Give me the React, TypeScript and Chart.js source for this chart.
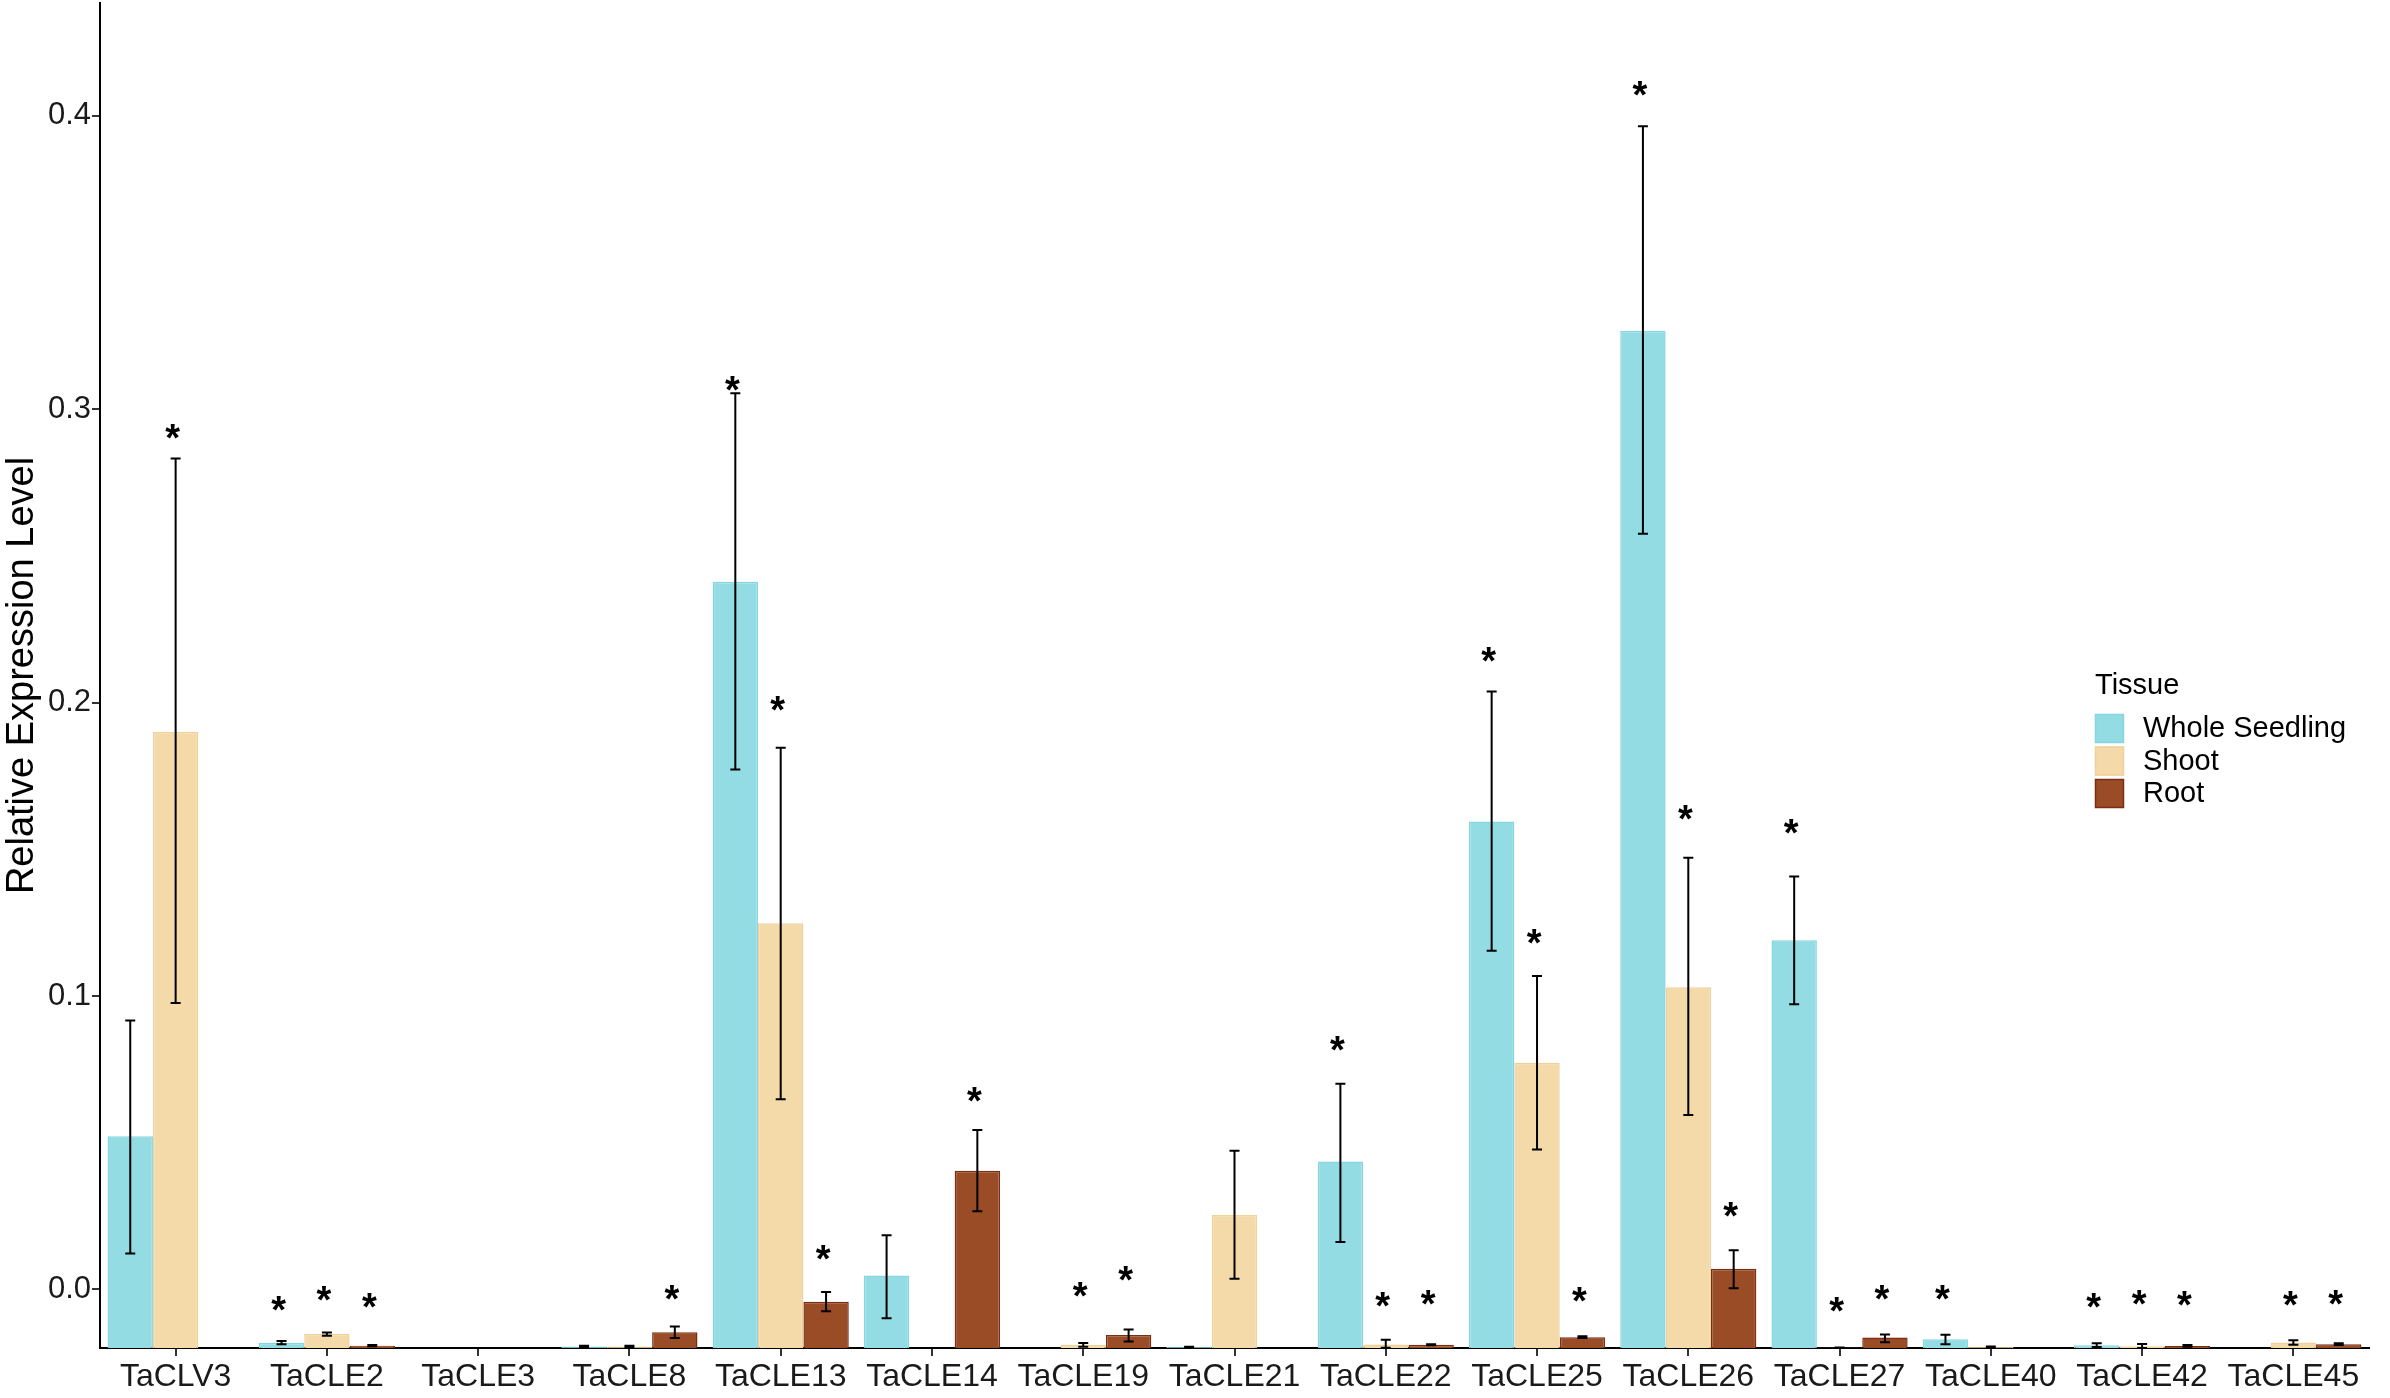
import { useEffect, useRef } from "react";
import { Chart, registerables } from "chart.js";

Chart.register(...registerables);

const genes = [
  "TaCLV3",
  "TaCLE2",
  "TaCLE3",
  "TaCLE8",
  "TaCLE13",
  "TaCLE14",
  "TaCLE19",
  "TaCLE21",
  "TaCLE22",
  "TaCLE25",
  "TaCLE26",
  "TaCLE27",
  "TaCLE40",
  "TaCLE42",
  "TaCLE45",
];

const tissues = ["Whole Seedling", "Shoot", "Root"];

// bar heights (bars start at the bottom of the panel, -0.02)
const wholeSeedling = [0.0522, -0.0182, null, -0.0195, 0.2412, 0.0047, null, -0.0197, 0.0436, 0.1595, 0.3268, 0.119, -0.017, -0.0191, null];
const shoot = [0.19, -0.0152, null, -0.0195, 0.1248, null, -0.0189, 0.0253, -0.0188, 0.0772, 0.103, -0.0199, -0.0197, -0.0194, -0.0181];
const root = [null, -0.0192, null, -0.0146, -0.0042, 0.0404, -0.0156, null, -0.0189, -0.0163, 0.007, -0.0164, null, -0.0193, -0.0187];

// error bar ends
const wholeSeedlingHigh = [0.0916, -0.0176, null, -0.0192, 0.3055, 0.0184, null, -0.0196, 0.0701, 0.2038, 0.3965, 0.1407, -0.0155, -0.0184, null];
const wholeSeedlingLow = [0.0122, -0.0187, null, -0.0198, 0.1772, -0.0099, null, -0.0199, 0.0161, 0.1154, 0.2576, 0.0972, -0.0187, -0.0197, null];
const shootHigh = [0.2832, -0.0147, null, -0.0192, 0.1846, null, -0.0183, 0.0472, -0.0172, 0.1068, 0.1471, -0.0198, -0.0195, -0.0186, -0.0174];
const shootLow = [0.0976, -0.0158, null, -0.0198, 0.0648, null, -0.0196, 0.0036, -0.0199, 0.0477, 0.0594, -0.02, -0.0199, -0.02, -0.0189];
const rootHigh = [null, -0.019, null, -0.0127, -0.0009, 0.0543, -0.0137, null, -0.0187, -0.016, 0.0133, -0.0154, null, -0.019, -0.0184];
const rootLow = [null, -0.0194, null, -0.0166, -0.0075, 0.0266, -0.0178, null, -0.0191, -0.0166, 0.0004, -0.018, null, -0.0196, -0.019];

// significance marks ("*"), value at the centre of the glyph
const wholeSeedlingStar = [null, -0.004, null, null, 0.3095, null, null, null, 0.0845, 0.2173, 0.4102, 0.1586, -0.0002, -0.0032, null];
const shootStar = [0.293, -0.0008, null, null, 0.2006, null, 0.0008, null, -0.0027, 0.121, 0.1632, -0.0046, null, -0.0022, -0.0024];
const rootStar = [null, -0.0032, null, -0.0002, 0.0133, 0.0673, 0.006, null, -0.002, -0.001, 0.0279, -0.0005, null, -0.0025, -0.002];

const yTicks = [0, 0.1, 0.2, 0.3, 0.4];

const fills = ["#93DCE4", "#F4D9A9", "#9A4C26"];
const borders = ["#86D6DF", "#EFD19C", "#7B2F12"];

const FONT = '"Liberation Sans", Arial, Helvetica, sans-serif';

const highs = [wholeSeedlingHigh, shootHigh, rootHigh];
const lows = [wholeSeedlingLow, shootLow, rootLow];
const stars = [wholeSeedlingStar, shootStar, rootStar];

const errorBarsAndStars = {
  id: "errorBarsAndStars",
  afterDatasetsDraw(chart: any) {
    const { ctx } = chart;
    const y = chart.scales.y;
    ctx.save();
    ctx.strokeStyle = "#000";
    ctx.lineWidth = 2;
    chart.data.datasets.forEach((_ds: any, di: number) => {
      const meta = chart.getDatasetMeta(di);
      meta.data.forEach((bar: any, i: number) => {
        const hi = highs[di][i];
        const lo = lows[di][i];
        if (hi == null || lo == null) return;
        const x = bar.x;
        const y1 = y.getPixelForValue(hi);
        const y2 = y.getPixelForValue(lo);
        ctx.beginPath();
        ctx.moveTo(x, y1);
        ctx.lineTo(x, y2);
        ctx.moveTo(x - 5, y1);
        ctx.lineTo(x + 5, y1);
        ctx.moveTo(x - 5, y2);
        ctx.lineTo(x + 5, y2);
        ctx.stroke();
      });
    });
    ctx.fillStyle = "#000";
    ctx.font = `bold 38px ${FONT}`;
    ctx.textAlign = "center";
    ctx.textBaseline = "alphabetic";
    chart.data.datasets.forEach((_ds: any, di: number) => {
      const meta = chart.getDatasetMeta(di);
      meta.data.forEach((bar: any, i: number) => {
        const s = stars[di][i];
        if (s == null) return;
        ctx.fillText("*", bar.x - 3, y.getPixelForValue(s) + 0.57 * 38);
      });
    });
    ctx.restore();
  },
};

const tissueLegend = {
  id: "tissueLegend",
  afterDraw(chart: any) {
    const { ctx } = chart;
    ctx.save();
    ctx.fillStyle = "#000";
    ctx.textAlign = "left";
    ctx.textBaseline = "middle";
    ctx.font = `29px ${FONT}`;
    ctx.fillText("Tissue", 2095, 686);
    tissues.forEach((t, i) => {
      const top = 714 + i * 32.5;
      ctx.fillStyle = fills[i];
      ctx.fillRect(2095, top, 29, 29);
      ctx.strokeStyle = borders[i];
      ctx.lineWidth = 1.5;
      ctx.strokeRect(2095.5, top + 0.5, 28, 28);
      ctx.fillStyle = "#000";
      ctx.fillText(t, 2143, top + 15);
    });
    ctx.restore();
  },
};

export default function App() {
  const canvasRef = useRef<HTMLCanvasElement>(null);

  useEffect(() => {
    document.body.style.margin = "0";
    const series = [wholeSeedling, shoot, root];
    const chart = new Chart(canvasRef.current as HTMLCanvasElement, {
      type: "bar",
      data: {
        labels: genes,
        datasets: tissues.map((t, i) => ({
          label: t,
          data: series[i],
          base: -0.02,
          backgroundColor: fills[i],
          borderColor: borders[i],
          borderWidth: 1.5,
          borderSkipped: "bottom",
          categoryPercentage: 0.9,
          barPercentage: 1.0,
        })),
      },
      options: {
        animation: false,
        responsive: true,
        maintainAspectRatio: false,
        devicePixelRatio: 1,
        layout: { padding: { top: 3, right: 21, left: 0, bottom: 0 } },
        plugins: {
          legend: { display: false },
          tooltip: { enabled: false },
        },
        scales: {
          x: {
            offset: true,
            grid: {
              display: true,
              drawOnChartArea: false,
              drawTicks: true,
              tickLength: 8,
              color: "#333",
              lineWidth: 2,
              offset: false,
            },
            border: { display: true, color: "#000", width: 2 },
            ticks: {
              color: "#1a1a1a",
              font: { family: FONT, size: 32 },
              padding: 2,
              maxRotation: 0,
              autoSkip: false,
            },
            afterFit: (scale: any) => {
              scale.height = 50;
              scale.paddingLeft = 0;
              scale.paddingRight = 0;
            },
          },
          y: {
            min: -0.02,
            max: 0.4385,
            grid: {
              display: true,
              drawOnChartArea: false,
              drawTicks: true,
              tickLength: 8,
              color: "#333",
              lineWidth: 2,
            },
            border: { display: true, color: "#000", width: 2 },
            afterBuildTicks: (scale: any) => {
              scale.ticks = yTicks.map((v) => ({ value: v }));
            },
            ticks: {
              color: "#1a1a1a",
              font: { family: FONT, size: 31 },
              padding: 1,
              callback: (v: any) => Number(v).toFixed(1),
            },
            title: {
              display: true,
              text: "Relative Expression Level",
              color: "#000",
              font: { family: FONT, size: 38 },
              padding: 0,
            },
            afterFit: (scale: any) => {
              scale.width = 100;
              scale.paddingTop = 0;
              scale.paddingBottom = 0;
            },
          },
        },
      },
      plugins: [errorBarsAndStars, tissueLegend],
    });
    return () => {
      chart.destroy();
    };
  }, []);

  return (
    <div style={{ width: 2390, height: 1398, position: "relative", background: "#fff" }}>
      <canvas ref={canvasRef}></canvas>
    </div>
  );
}
